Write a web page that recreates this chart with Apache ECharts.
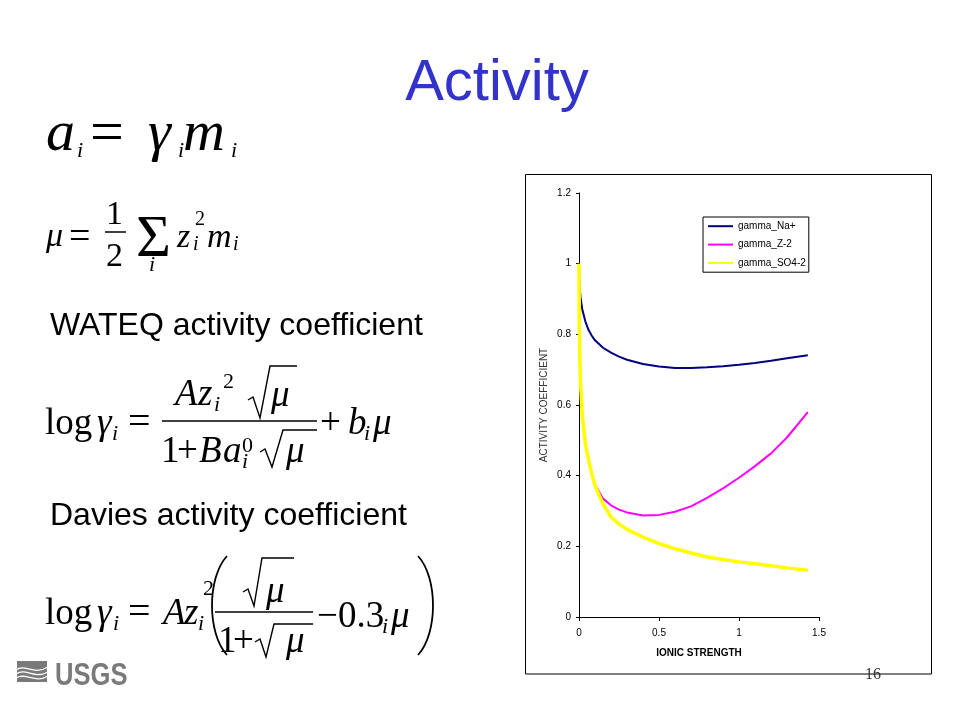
<!DOCTYPE html>
<html>
<head>
<meta charset="utf-8">
<script src="https://cdn.jsdelivr.net/npm/echarts@6/dist/echarts.min.js"></script>
<style>
html,body{margin:0;padding:0;background:#fff;}
#chart{width:960px;height:720px;}
</style>
</head>
<body>
<div id="chart"></div>
<script>
// ---- data ----
const ionicStrength = [0, 0.002, 0.005, 0.01, 0.02, 0.04, 0.06, 0.08, 0.1, 0.15, 0.2, 0.25, 0.3, 0.4, 0.5, 0.6, 0.7, 0.8, 0.9, 1.0, 1.1, 1.2, 1.3, 1.43];
const gammaNa  = [1.0, 0.952, 0.928, 0.903, 0.872, 0.836, 0.812, 0.796, 0.783, 0.762, 0.748, 0.737, 0.728, 0.716, 0.709, 0.705, 0.705, 0.707, 0.710, 0.714, 0.719, 0.725, 0.732, 0.741];
const gammaZ2  = [1.0, 0.82, 0.74, 0.66, 0.575, 0.49, 0.445, 0.405, 0.375, 0.335, 0.316, 0.304, 0.296, 0.287, 0.289, 0.298, 0.313, 0.337, 0.364, 0.394, 0.427, 0.463, 0.508, 0.58];
const gammaSO4 = [1.0, 0.82, 0.74, 0.66, 0.575, 0.49, 0.445, 0.405, 0.372, 0.32, 0.283, 0.263, 0.248, 0.226, 0.208, 0.193, 0.181, 0.170, 0.163, 0.156, 0.151, 0.145, 0.139, 0.132];
const seriesNames = ['gamma_Na+', 'gamma_Z-2', 'gamma_SO4-2'];
const xTickLabels = ['0', '0.5', '1', '1.5'];
const yTickLabels = ['0', '0.2', '0.4', '0.6', '0.8', '1', '1.2'];

function pairs(xs, ys) { return xs.map((x, i) => [x, ys[i]]); }

const SERIF = '"Liberation Serif", "Times New Roman", serif';
const SANS = '"Liberation Sans", Arial, sans-serif';

function txt(x, base, s, size, o) {
  o = o || {};
  const fam = o.family || SERIF;
  const font = (o.italic ? 'italic ' : '') + (o.bold ? 'bold ' : '') + size + 'px ' + fam;
  const el = {
    type: 'text', x: x, y: base - 0.22 * size, silent: true, z: 100,
    style: {
      text: s, x: 0, y: 0, font: font, fill: o.color || '#000',
      align: o.align || 'left', textAlign: o.align || 'left',
      verticalAlign: 'middle', textVerticalAlign: 'middle'
    }
  };
  if (o.scaleX) el.scaleX = o.scaleX;
  return el;
}
function it(x, base, s, size) { return txt(x, base, s, size, { italic: true }); }
function hline(x1, x2, y, w) {
  return { type: 'line', silent: true, z: 100, shape: { x1: x1, y1: y, x2: x2, y2: y }, style: { stroke: '#000', lineWidth: w || 1.5 } };
}
function radical(pts) {
  return { type: 'polyline', silent: true, z: 100, shape: { points: pts }, style: { stroke: '#000', lineWidth: 1.4, fill: null } };
}
function paren(x1, xc, yTop, yBot) {
  const h = yBot - yTop;
  return { type: 'bezierCurve', silent: true, z: 100,
    shape: { x1: x1, y1: yTop, cpx1: xc, cpy1: yTop + h * 0.22, cpx2: xc, cpy2: yTop + h * 0.78, x2: x1, y2: yBot },
    style: { stroke: '#000', lineWidth: 1.8, fill: null } };
}

const graphics = [
  // chart frame
  { type: 'rect', silent: true, z: 1, shape: { x: 525.5, y: 174.5, width: 406, height: 499.5 }, style: { fill: null, stroke: '#000', lineWidth: 1 } },
  // title
  txt(497, 97, 'Activity', 58, { family: SANS, color: '#3333cc', align: 'center' }),
  // eq 1: a_i = γ_i m_i
  it(46, 148, 'a', 58), it(77, 156, 'i', 22),
  txt(90, 148, '=', 60),
  it(148, 148, 'γ', 58), it(178, 156, 'i', 22),
  it(183, 148, 'm', 58), it(231, 156, 'i', 22),
  // eq 2: μ = 1/2 Σ z_i^2 m_i
  it(46, 245, 'μ', 34),
  txt(69, 246, '=', 38),
  txt(106, 223, '1', 34), hline(105, 126, 232, 1.5), txt(106, 265, '2', 34),
  txt(136, 253, 'Σ', 60),
  it(149, 270, 'i', 22),
  it(177, 246, 'z', 34), txt(195, 224, '2', 20), it(193, 249, 'i', 20),
  it(207, 246, 'm', 34), it(233, 249, 'i', 20),
  // section heading
  txt(50, 333, 'WATEQ activity coefficient', 32, { family: SANS }),
  // eq 3
  txt(45, 432, 'log', 37),
  it(97, 432, 'γ', 37), it(112, 439, 'i', 22),
  txt(128, 432, '=', 40),
  it(175, 403, 'A', 37), it(198, 403, 'z', 37), it(214, 410, 'i', 22), txt(223, 387, '2', 22),
  radical([[248, 400], [253, 397], [260, 418], [270, 366], [297, 366]]),
  it(271, 404, 'μ', 37),
  hline(162, 317, 421, 1.5),
  txt(161, 460, '1', 37), txt(177, 460, '+', 37),
  it(199, 460, 'B', 37), it(223, 460, 'a', 37), txt(242, 451, '0', 22), it(242, 467, 'i', 22),
  radical([[260, 452], [265, 449], [272, 467], [283, 430], [317, 430]]),
  it(286, 460, 'μ', 37),
  txt(320, 432, '+', 37), it(348, 432, 'b', 37), it(364, 439, 'i', 22), it(373, 432, 'μ', 37),
  // section heading
  txt(50, 523, 'Davies activity coefficient', 32, { family: SANS }),
  // eq 4
  txt(45, 622, 'log', 37),
  it(97, 622, 'γ', 37), it(113, 629, 'i', 22),
  txt(128, 622, '=', 40),
  it(163, 622, 'A', 37), it(184, 622, 'z', 37), it(198, 629, 'i', 22), txt(203, 594, '2', 22),
  paren(227, 207, 556, 655),
  radical([[243, 592], [248, 589], [254, 606], [262, 558], [294, 558]]),
  it(266, 600, 'μ', 37),
  hline(215, 313, 612, 1.5),
  txt(218, 650, '1', 37), txt(233, 650, '+', 37),
  radical([[255, 642], [260, 639], [266, 657], [274, 624], [313, 624]]),
  it(286, 650, 'μ', 37),
  txt(317, 625, '−', 37),
  txt(338, 625, '0.3', 37), it(382, 632, 'i', 22), it(391, 625, 'μ', 37),
  paren(418, 438, 556, 655),
  // USGS logo
  { type: 'rect', silent: true, z: 100, shape: { x: 17, y: 661, width: 30, height: 21 }, style: { fill: '#7a7a7a' } },
  { type: 'bezierCurve', silent: true, z: 101, shape: { x1: 16, y1: 670, cpx1: 25, cpy1: 663, cpx2: 33, cpy2: 676, x2: 48, y2: 667 }, style: { stroke: '#fff', lineWidth: 1.3, fill: null } },
  { type: 'bezierCurve', silent: true, z: 101, shape: { x1: 16, y1: 674, cpx1: 26, cpy1: 667, cpx2: 34, cpy2: 680, x2: 48, y2: 672 }, style: { stroke: '#fff', lineWidth: 1.3, fill: null } },
  { type: 'bezierCurve', silent: true, z: 101, shape: { x1: 16, y1: 678, cpx1: 26, cpy1: 672, cpx2: 35, cpy2: 684, x2: 48, y2: 676 }, style: { stroke: '#fff', lineWidth: 1.3, fill: null } },
  txt(55, 683, 'USGS', 32, { family: SANS, bold: true, color: '#7a7a7a', scaleX: 0.8 }),
  // page number
  txt(873, 678, '16', 16, { color: '#333', align: 'center' })
];

const chart = echarts.init(document.getElementById('chart'), null, { renderer: 'canvas', width: 960, height: 720 });

const axisText = { color: '#000', fontSize: 10, fontFamily: SANS };

const option = {
  backgroundColor: '#ffffff',
  animation: false,
  grid: { left: 579, right: 141, top: 193, bottom: 103, containLabel: false },
  xAxis: {
    type: 'value', min: 0, max: 1.5, interval: 0.5,
    name: 'IONIC STRENGTH', nameLocation: 'middle', nameGap: 31,
    nameTextStyle: { color: '#000', fontSize: 10, fontWeight: 'bold', fontFamily: SANS },
    axisLine: { show: true, onZero: false, lineStyle: { color: '#000', width: 1 } },
    axisTick: { show: true, length: 4, inside: false, lineStyle: { color: '#000', width: 1 } },
    axisLabel: Object.assign({ margin: 11, formatter: v => xTickLabels[Math.round(v / 0.5)] }, axisText),
    splitLine: { show: false }
  },
  yAxis: {
    type: 'value', min: 0, max: 1.2, interval: 0.2,
    name: 'ACTIVITY COEFFICIENT', nameLocation: 'middle', nameGap: 30, nameRotate: 90,
    nameTextStyle: { color: '#333', fontSize: 10, fontFamily: SANS },
    axisLine: { show: true, onZero: false, lineStyle: { color: '#000', width: 1 } },
    axisTick: { show: true, length: 3, inside: false, lineStyle: { color: '#000', width: 1 } },
    axisLabel: Object.assign({ margin: 8, formatter: v => yTickLabels[Math.round(v / 0.2)] }, axisText),
    splitLine: { show: false }
  },
  legend: {
    orient: 'vertical', left: 703, top: 217,
    padding: [4, 3, 4, 4], itemGap: 8, itemWidth: 25, itemHeight: 13,
    backgroundColor: '#fff', borderColor: '#000', borderWidth: 1, borderRadius: 0,
    itemStyle: { opacity: 0 },
    textStyle: { color: '#000', fontSize: 10, fontFamily: SANS },
    data: seriesNames
  },
  series: [
    { name: seriesNames[0], type: 'line', data: pairs(ionicStrength, gammaNa), showSymbol: false, symbol: 'circle', symbolSize: 0,
      smooth: false, lineStyle: { color: '#000080', width: 2 }, itemStyle: { color: '#000080' }, z: 3 },
    { name: seriesNames[1], type: 'line', data: pairs(ionicStrength, gammaZ2), showSymbol: false, symbol: 'circle', symbolSize: 0,
      smooth: false, lineStyle: { color: '#ff00ff', width: 2 }, itemStyle: { color: '#ff00ff' }, z: 4 },
    { name: seriesNames[2], type: 'line', data: pairs(ionicStrength, gammaSO4), showSymbol: false, symbol: 'circle', symbolSize: 0,
      smooth: false, lineStyle: { color: '#ffff00', width: 3.5 }, itemStyle: { color: '#ffff00' }, z: 5 }
  ],
  graphic: { elements: graphics }
};
chart.setOption(option);
</script>
</body>
</html>
